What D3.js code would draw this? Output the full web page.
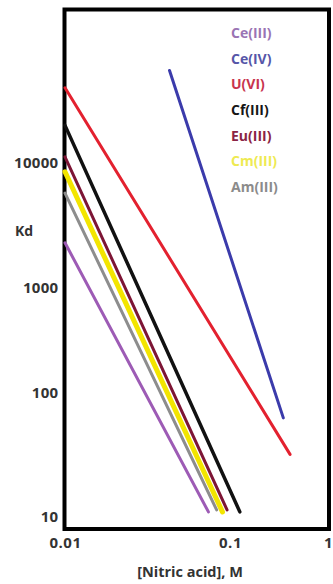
<!DOCTYPE html>
<html>
<head>
<meta charset="utf-8">
<script src="https://cdn.jsdelivr.net/npm/d3@7"></script>
<style>
  body { margin: 0; background: #fff; }
  svg { display: block; }
</style>
</head>
<body>
<div id="chart"></div>
<script>
// series names, start/end points (x = nitric acid M, y = Kd)
var series = ["Ce(III)", "Ce(IV)", "U(VI)", "Cf(III)", "Eu(III)", "Cm(III)", "Am(III)"];
var xStart = [0.01, 0.043, 0.01, 0.01, 0.01, 0.01, 0.01];
var yStart = [2300, 55000, 40000, 20000, 11200, 8500, 5750];
var xEnd = [0.074, 0.35, 0.41, 0.126, 0.096, 0.09, 0.083];
var yEnd = [11, 63, 32, 11, 11.4, 11, 11.4];

var xTicks = [0.01, 0.1, 1];
var xTickLabels = ["0.01", "0.1", "1"];
var yTicks = [10, 100, 1000, 10000];

var lineColors = ["#9d5bb5", "#3b3bab", "#e3212f", "#111111", "#7d1535", "#f3e500", "#8d8d8d"];
var labelColors = ["#9a74b4", "#5656a8", "#c8344e", "#161616", "#8a2444", "#eeea52", "#8b8b8b"];
var lineWidths = [3, 3, 3, 3.5, 3, 5, 3];

var W = 333, H = 584;
var frame = {left: 64.5, right: 329, top: 9.5, bottom: 529};

var svg = d3.select("#chart").append("svg")
  .attr("width", W)
  .attr("height", H);

// scales (log, stretched to where the original puts its tick labels)
var x = d3.scaleLog()
  .domain([0.01, 0.1, 1])
  .range([65, 230, 328]);

var y = d3.scaleLog()
  .domain([10, 100, 1000, 10000])
  .range([517, 393, 288, 163]);

// frame
svg.append("rect")
  .attr("x", frame.left)
  .attr("y", frame.top)
  .attr("width", frame.right - frame.left)
  .attr("height", frame.bottom - frame.top)
  .attr("fill", "#fff")
  .attr("stroke", "#000")
  .attr("stroke-width", 4);

// lines
var line = d3.line()
  .x(function(d) { return x(d[0]); })
  .y(function(d) { return y(d[1]); });

svg.append("g").selectAll("path")
  .data(series)
  .enter()
  .append("path")
  .attr("d", function(d, i) { return line([[xStart[i], yStart[i]], [xEnd[i], yEnd[i]]]); })
  .attr("fill", "none")
  .attr("stroke", function(d, i) { return lineColors[i]; })
  .attr("stroke-width", function(d, i) { return lineWidths[i]; })
  .attr("stroke-linecap", "round");

// y axis labels
var yAxis = svg.append("g")
  .attr("transform", "translate(" + (frame.left - 2) + ",0)")
  .call(d3.axisLeft(y).tickValues(yTicks).tickSize(0).tickPadding(4).tickFormat(d3.format("d")));
yAxis.select(".domain").remove();
yAxis.selectAll("text")
  .attr("fill", "#333")
  .style("font-family", "'Open Sans', sans-serif")
  .style("font-weight", "bold")
  .style("font-size", "15px")
  .style("letter-spacing", "0.3px");

// x axis labels
var xAxis = svg.append("g")
  .attr("transform", "translate(0," + (frame.bottom + 2) + ")")
  .call(d3.axisBottom(x).tickValues(xTicks).tickSize(0).tickPadding(6)
    .tickFormat(function(d, i) { return xTickLabels[i]; }));
xAxis.select(".domain").remove();
xAxis.selectAll("text")
  .attr("fill", "#333")
  .style("font-family", "'Open Sans', sans-serif")
  .style("font-weight", "bold")
  .style("font-size", "15px")
  .style("letter-spacing", "0.5px");

// axis titles
svg.append("text")
  .attr("x", 24)
  .attr("y", 236)
  .attr("text-anchor", "middle")
  .attr("fill", "#333")
  .style("font-family", "'Open Sans', sans-serif")
  .style("font-weight", "bold")
  .style("font-size", "14px")
  .text("Kd");

svg.append("text")
  .attr("x", 190)
  .attr("y", 577)
  .attr("text-anchor", "middle")
  .attr("fill", "#333")
  .style("font-family", "'Open Sans', sans-serif")
  .style("font-weight", "bold")
  .style("font-size", "14.5px")
  .text("[Nitric acid], M");

// legend
var ly = d3.scalePoint()
  .domain(series)
  .range([38, 192]);

svg.append("g").selectAll("text")
  .data(series)
  .enter()
  .append("text")
  .attr("x", 231)
  .attr("y", function(d) { return ly(d); })
  .attr("fill", function(d, i) { return labelColors[i]; })
  .style("font-family", "'Open Sans', sans-serif")
  .style("font-weight", "bold")
  .style("font-size", "14px")
  .text(function(d) { return d; });
</script>
</body>
</html>
